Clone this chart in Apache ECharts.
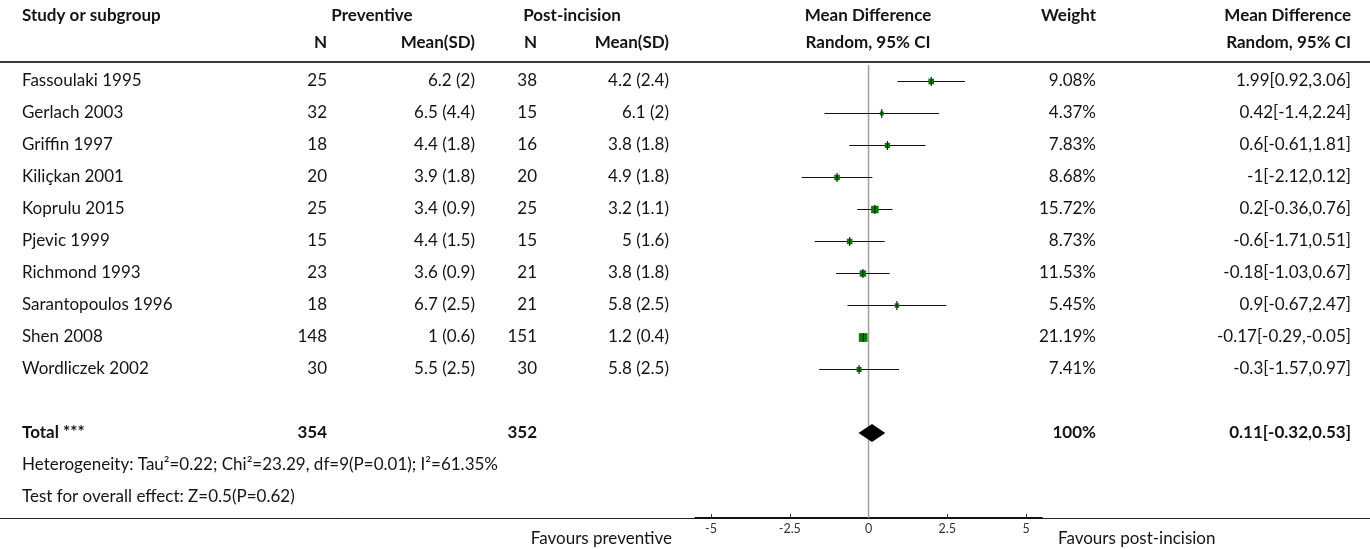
<!DOCTYPE html>
<html><head><meta charset="utf-8">
<script src="https://cdn.jsdelivr.net/npm/echarts@6/dist/echarts.min.js"></script>
<style>html,body{margin:0;padding:0;background:#fff}#c{width:1370px;height:549px}</style>
</head><body><div id="c"></div>
<script>
const studies = ["Fassoulaki 1995","Gerlach 2003","Griffin 1997","Kiliçkan 2001","Koprulu 2015","Pjevic 1999","Richmond 1993","Sarantopoulos 1996","Shen 2008","Wordliczek 2002"];
const prevN = [25,32,18,20,25,15,23,18,148,30];
const prevMeanSD = ["6.2 (2)","6.5 (4.4)","4.4 (1.8)","3.9 (1.8)","3.4 (0.9)","4.4 (1.5)","3.6 (0.9)","6.7 (2.5)","1 (0.6)","5.5 (2.5)"];
const postN = [38,15,16,20,25,15,21,21,151,30];
const postMeanSD = ["4.2 (2.4)","6.1 (2)","3.8 (1.8)","4.9 (1.8)","3.2 (1.1)","5 (1.6)","3.8 (1.8)","5.8 (2.5)","1.2 (0.4)","5.8 (2.5)"];
const md = [1.99,0.42,0.6,-1,0.2,-0.6,-0.18,0.9,-0.17,-0.3];
const lo = [0.92,-1.4,-0.61,-2.12,-0.36,-1.71,-1.03,-0.67,-0.29,-1.57];
const hi = [3.06,2.24,1.81,0.12,0.76,0.51,0.67,2.47,-0.05,0.97];
const weight = [9.08,4.37,7.83,8.68,15.72,8.73,11.53,5.45,21.19,7.41];
const total = {label:"Total ***", n1:354, n2:352, md:0.11, lo:-0.32, hi:0.53, weight:"100%"};
const heterogeneity = "Heterogeneity: Tau²=0.22; Chi²=23.29, df=9(P=0.01); I²=61.35%";
const overall = "Test for overall effect: Z=0.5(P=0.62)";
const tickValues = [-5,-2.5,0,2.5,5];

const FONT = "Lato";
const FS = 17;
const TXT = "#141414";
const colX = {name:22, n1:327, m1:475, n2:537, m2:669, w:1096, ci:1351};

const tableRows = studies.map((s,i)=>({row:i, cells:[
  [s,colX.name,'left',false],[String(prevN[i]),colX.n1,'right',false],[prevMeanSD[i],colX.m1,'right',false],
  [String(postN[i]),colX.n2,'right',false],[postMeanSD[i],colX.m2,'right',false],
  [weight[i]+'%',colX.w,'right',false],
  [md[i]+'['+lo[i]+','+hi[i]+']',colX.ci,'right',false]]}));
tableRows.push({row:11, cells:[[total.label,colX.name,'left',true],[String(total.n1),colX.n1,'right',true],
  [String(total.n2),colX.n2,'right',true],[total.weight,colX.w,'right',true],
  [total.md+'['+total.lo+','+total.hi+']',colX.ci,'right',true]]});
tableRows.push({row:12, cells:[[heterogeneity,colX.name,'left',false]]});
tableRows.push({row:13, cells:[[overall,colX.name,'left',false]]});

const chart = echarts.init(document.getElementById('c'), null, {renderer:'canvas'});
const hdr = (t,x,y,align)=>({type:'text',x:x,y:y,style:{text:t,x:0,y:0,align:align,verticalAlign:'middle',font:'bold '+FS+'px '+FONT,fill:TXT}});
const graphics = [
  hdr('Study or subgroup',colX.name,16,'left'),
  hdr('Preventive',372,16,'center'),
  hdr('Post-incision',572,16,'center'),
  hdr('Mean Difference',868,16,'center'),
  hdr('Weight',colX.w,16,'right'),
  hdr('Mean Difference',colX.ci,16,'right'),
  hdr('N',colX.n1,43,'right'),
  hdr('Mean(SD)',colX.m1,43,'right'),
  hdr('N',colX.n2,43,'right'),
  hdr('Mean(SD)',colX.m2,43,'right'),
  hdr('Random, 95% CI',868,43,'center'),
  hdr('Random, 95% CI',colX.ci,43,'right'),
  {type:'line',shape:{x1:0,y1:62,x2:1370,y2:62},style:{stroke:'#3a3a3a',lineWidth:2}},
  {type:'line',shape:{x1:0,y1:518.5,x2:1370,y2:518.5},style:{stroke:'#222',lineWidth:1}},
  {type:'text',x:672,y:539,style:{text:'Favours preventive',align:'right',verticalAlign:'middle',font:FS+'px '+FONT,fill:TXT}},
  {type:'text',x:1058,y:539,style:{text:'Favours post-incision',align:'left',verticalAlign:'middle',font:FS+'px '+FONT,fill:TXT}}
];

const option = {
  animation:false,
  backgroundColor:'#fff',
  grid:{left:695.3, right:328.2, top:65, bottom:31, containLabel:false},
  xAxis:{type:'value', min:-5.5, max:5.5,
    axisLine:{show:true,onZero:false,lineStyle:{color:'#111',width:2}},
    axisTick:{show:true,inside:true,length:4,customValues:tickValues,lineStyle:{color:'#333'}},
    axisLabel:{show:true,customValues:tickValues,fontSize:12.5,color:'#333',margin:4,fontFamily:FONT},
    splitLine:{show:false}},
  yAxis:{type:'value', inverse:true, min:-0.5, max:13.65625, show:false},
  graphic:graphics,
  series:[
    {type:'custom', name:'zero', clip:false, z:1, data:[[0]],
      renderItem:(p,api)=>{const a=api.coord([0,-0.5]),b=api.coord([0,13.65625]);
        return {type:'line',shape:{x1:a[0],y1:a[1],x2:b[0],y2:b[1]},style:{stroke:'#a0a0a0',lineWidth:1.5}};}},
    {type:'custom', name:'studies', clip:false, z:3,
      data: md.map((m,i)=>[m,i,lo[i],hi[i],weight[i]]),
      renderItem:(p,api)=>{
        const m=api.value(0), r=api.value(1), l=api.value(2), h=api.value(3), w=api.value(4);
        const c=api.coord([m,r]), cl=api.coord([l,r]), ch=api.coord([h,r]);
        const s=Math.sqrt(w)*1.9;
        const y=Math.round(c[1])+0.5;
        return {type:'group',children:[
          {type:'line',shape:{x1:cl[0],y1:y,x2:ch[0],y2:y},style:{stroke:'#111',lineWidth:1.2}},
          {type:'rect',shape:{x:c[0]-s/2,y:y-s/2,width:s,height:s},style:{fill:'#0a7d0a'}},
          {type:'line',shape:{x1:c[0],y1:y-4.5,x2:c[0],y2:y+4.5},style:{stroke:'#222',lineWidth:1.2}}
        ]};
      }},
    {type:'custom', name:'total', clip:false, z:3,
      data:[[total.md,11,total.lo,total.hi]],
      renderItem:(p,api)=>{
        const m=api.coord([api.value(0),api.value(1)]), l=api.coord([api.value(2),api.value(1)]), h=api.coord([api.value(3),api.value(1)]);
        return {type:'polygon',shape:{points:[[l[0],m[1]],[m[0],m[1]-9],[h[0],m[1]],[m[0],m[1]+9]]},style:{fill:'#000'}};
      }},
    {type:'custom', name:'table', clip:false, z:4,
      data: tableRows.map((r,i)=>[0,r.row,i]),
      renderItem:(p,api)=>{
        const r=tableRows[api.value(2)];
        const y=api.coord([0,api.value(1)])[1];
        return {type:'group',children:r.cells.map(c=>({type:'text',x:c[1],y:y,
          style:{text:c[0],align:c[2],verticalAlign:'middle',font:(c[3]?'bold ':'')+FS+'px '+FONT,fill:TXT}}))};
      }}
  ]
};
chart.setOption(option);
</script></body></html>
